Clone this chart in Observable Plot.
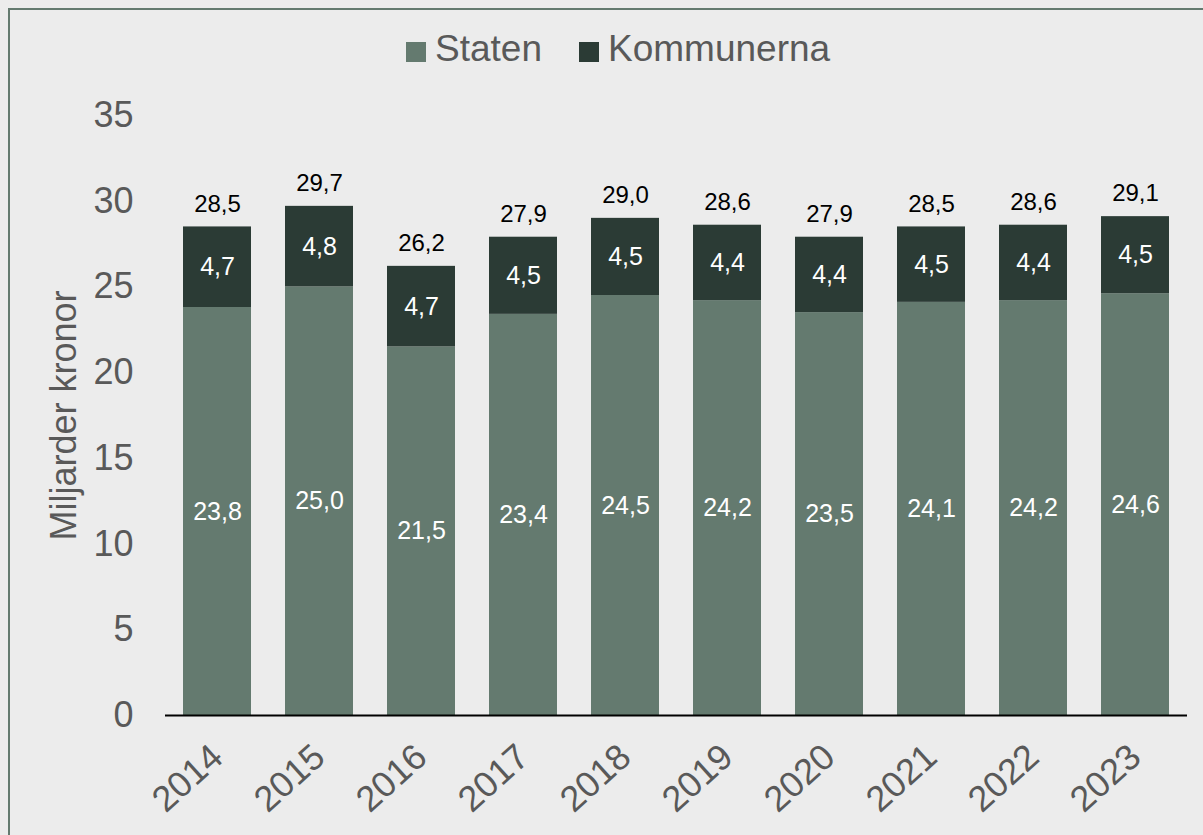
<!DOCTYPE html>
<html>
<head>
<meta charset="utf-8">
<script src="https://cdn.jsdelivr.net/npm/d3@7"></script>
<script src="https://cdn.jsdelivr.net/npm/@observablehq/plot@0.6"></script>
<style>
  html, body { margin: 0; padding: 0; background: #ececec; width: 1203px; height: 835px; overflow: hidden; }
  body { position: relative; font-family: "Liberation Sans", Arial, sans-serif; }
  #frame { position: absolute; left: 8px; top: 8px; width: 1300px; height: 900px; border-top: 2px solid #647a6f; border-left: 2px solid #647a6f; box-sizing: border-box; }
  #legend { position: relative; height: 90px; }
  .sw { position: absolute; width: 20px; height: 20px; top: 42px; }
  .lt { position: absolute; top: 27px; font-size: 37px; color: #595959; line-height: 44px; }
  #chart { position: absolute; left: 0; top: 90px; }
</style>
</head>
<body>
<div id="frame"></div>
<div id="legend"></div>
<div id="chart"></div>
<script>
const years = ["2014","2015","2016","2017","2018","2019","2020","2021","2022","2023"];
const staten = [23.8, 25.0, 21.5, 23.4, 24.5, 24.2, 23.5, 24.1, 24.2, 24.6];
const kommunerna = [4.7, 4.8, 4.7, 4.5, 4.5, 4.4, 4.4, 4.5, 4.4, 4.5];
const totals = [28.5, 29.7, 26.2, 27.9, 29.0, 28.6, 27.9, 28.5, 28.6, 29.1];
const yTicks = [0, 5, 10, 15, 20, 25, 30, 35];
const seriesNames = ["Staten", "Kommunerna"];
const seriesColors = ["#647a6f", "#2b3b35"];

const fmt = v => d3.format(".1f")(v).replace(".", ",");

const rows = years.map((y, i) => ({
  year: y, staten: staten[i], kommun: kommunerna[i], total: totals[i],
  statenMid: staten[i] / 2,
  kommunMid: staten[i] + (totals[i] - staten[i]) / 2
}));

// Legend
const legend = document.getElementById("legend");
const legendPos = [[406, 435], [579, 608]];
seriesNames.forEach((name, i) => {
  const sw = document.createElement("div");
  sw.className = "sw";
  sw.style.left = legendPos[i][0] + "px";
  sw.style.background = seriesColors[i];
  legend.appendChild(sw);
  const t = document.createElement("span");
  t.className = "lt";
  t.style.left = legendPos[i][1] + "px";
  t.textContent = name;
  legend.appendChild(t);
});

const chart = Plot.plot({
  width: 1203,
  height: 745,
  marginLeft: 165,
  marginRight: 16,
  marginTop: 25,
  marginBottom: 120,
  style: { background: "transparent", fontFamily: "Liberation Sans, Arial, sans-serif", overflow: "visible" },
  x: { domain: years, paddingInner: 0.333, paddingOuter: 0.167 },
  y: { domain: [0, 35] },
  marks: [
    Plot.barY(rows, { x: "year", y1: 0, y2: "staten", fill: seriesColors[0] }),
    Plot.barY(rows, { x: "year", y1: "staten", y2: "total", fill: seriesColors[1] }),
    Plot.ruleY([0], { stroke: "#000", strokeWidth: 2 }),
    Plot.text(rows, { x: "year", y: "statenMid", text: d => fmt(d.staten), fill: "#fff", fontSize: 25 }),
    Plot.text(rows, { x: "year", y: "kommunMid", text: d => fmt(d.kommun), fill: "#fff", fontSize: 25 }),
    Plot.text(rows, { x: "year", y: "total", text: d => fmt(d.total), fill: "#000", fontSize: 24, dy: -23 }),
    Plot.axisY({ ticks: yTicks, tickSize: 0, tickPadding: 32, fontSize: 36, color: "#595959", tickFormat: d => String(d),
      label: "Miljarder kronor", labelAnchor: "center", labelArrow: "none", labelOffset: 115 }),
    Plot.axisX({ tickSize: 0, tickPadding: 36, tickRotate: -42, fontSize: 36, color: "#595959", label: null })
  ]
});
document.getElementById("chart").appendChild(chart);
</script>
</body>
</html>
